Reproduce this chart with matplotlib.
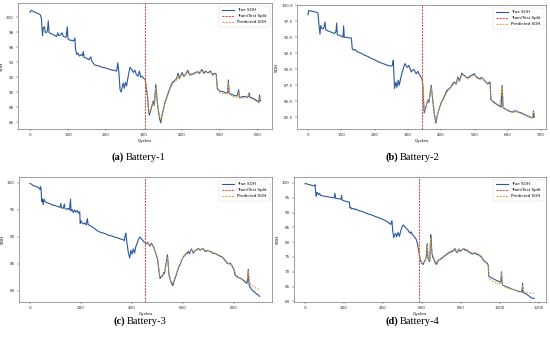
import numpy as np
import matplotlib
matplotlib.use("Agg")
import matplotlib.pyplot as plt

# ---- Battery-1 ----
a_cyc = [0, 3, 10, 20, 27, 30, 31, 33, 35, 38, 40, 43, 46, 48, 50, 60, 70, 73, 76, 80,
         84, 88, 95, 98, 100, 105, 110, 115, 118, 120, 123, 126, 130, 135, 138, 140, 143, 150, 155, 160,
         162, 170, 180, 190, 200, 210, 220, 228, 231, 234, 237, 240, 243, 245, 248, 251, 254, 258, 263, 268,
         272, 276, 280, 284, 288, 291, 295, 299, 303, 306, 309, 312, 314, 318, 322, 324, 327, 331, 335, 338,
         341, 344, 347, 350, 355, 358, 362, 368, 372, 375, 380, 386, 390, 393, 397, 400, 405, 410, 415, 420,
         425, 430, 435, 440, 446, 452, 458, 462, 466, 470, 475, 480, 485, 490, 493, 500, 505, 510, 515, 520,
         522, 524, 530, 535, 540, 545, 549, 551, 555, 560, 565, 570, 575, 577, 579, 585, 590, 595, 600, 602,
         604, 606]
a_true = [100.6, 100.9, 100.7, 100.5, 100.3, 99.8, 98.9, 97.5, 98.6, 98.7, 98.0, 97.9, 98.2, 99.5, 97.9, 97.7, 97.4, 97.9, 97.5, 97.6,
          97.9, 97.4, 97.3, 98.7, 97.1, 96.9, 96.9, 96.8, 97.2, 95.6, 95.0, 95.2, 94.8, 95.0, 94.8, 95.4, 94.6, 94.5, 94.3, 94.7,
          94.2, 93.6, 93.5, 93.3, 93.2, 93.0, 92.9, 92.8, 93.9, 92.5, 90.3, 90.0, 90.8, 91.2, 90.5, 91.3, 90.8, 92.0, 93.3, 93.0,
          92.6, 92.9, 92.3, 92.1, 92.8, 92.0, 92.1, 91.8, 91.7, 90.5, 89.5, 87.5, 86.9, 87.6, 88.4, 88.8, 88.2, 91.0, 88.6, 87.4,
          86.5, 85.9, 86.8, 87.5, 88.6, 89.0, 89.6, 90.5, 91.0, 91.3, 91.5, 91.8, 92.5, 91.8, 92.2, 92.6, 92.1, 92.4, 92.9, 92.3,
          92.4, 92.4, 92.6, 92.7, 92.5, 93.0, 92.5, 92.8, 92.6, 92.6, 92.8, 92.3, 92.5, 92.4, 90.4, 90.1, 90.1, 90.0, 89.9, 89.9,
          91.6, 89.8, 89.7, 89.6, 89.5, 89.5, 90.3, 89.3, 89.3, 89.4, 89.4, 89.3, 89.4, 89.9, 89.3, 89.2, 89.1, 88.9, 88.8, 88.6,
          89.6, 88.8]
a_pred_cyc = [303, 306, 309, 312, 314, 318, 322, 324, 327, 331, 335, 338, 341, 344, 347, 350, 355, 358, 362, 368,
              375, 380, 386, 390, 393, 400, 405, 415, 420, 430, 440, 452, 458, 462, 470, 475, 480, 490, 493, 500,
              510, 520, 522, 524, 535, 545, 549, 551, 565, 577, 579, 590, 600, 604, 606]
a_pred = [91.7, 90.8, 89.8, 87.8, 87.2, 87.5, 88.3, 88.6, 88.3, 90.6, 88.8, 87.6, 86.8, 86.3, 86.9, 87.4, 88.4, 88.8, 89.4, 90.3,
          91.1, 91.3, 91.6, 92.2, 91.7, 92.4, 92.0, 92.7, 92.2, 92.3, 92.6, 92.8, 92.4, 92.7, 92.5, 92.7, 92.2, 92.3, 90.6, 89.9,
          89.8, 89.7, 91.3, 89.7, 89.4, 89.3, 90.0, 89.2, 89.2, 89.7, 89.2, 88.9, 88.6, 89.3, 88.9]
a_split = 303

# ---- Battery-2 ----
b_cyc = [0, 2, 10, 20, 30, 33, 36, 38, 40, 45, 48, 51, 53, 60, 70, 80, 84, 86, 88, 95,
         100, 105, 107, 109, 115, 125, 130, 133, 136, 140, 145, 150, 160, 170, 180, 190, 200, 210, 220, 230,
         240, 250, 254, 256, 258, 260, 264, 267, 271, 274, 278, 283, 291, 298, 303, 310, 318, 325, 330, 335,
         340, 343, 345, 347, 349, 355, 360, 363, 367, 370, 373, 376, 380, 384, 388, 392, 400, 405, 410, 415,
         420, 425, 430, 435, 440, 445, 450, 455, 462, 467, 470, 475, 480, 485, 490, 495, 500, 505, 510, 515,
         520, 525, 530, 535, 540, 545, 547, 549, 555, 560, 565, 570, 575, 580, 583, 586, 592, 600, 608, 615,
         620, 625, 632, 640, 648, 655, 660, 665, 672, 676, 677, 680]
b_true = [98.5, 99.2, 99.1, 99.0, 98.8, 97.0, 95.5, 96.8, 96.5, 96.3, 96.6, 97.4, 96.2, 96.0, 95.8, 95.6, 95.9, 97.2, 95.4, 95.3,
          95.2, 95.0, 96.8, 95.0, 95.0, 94.9, 94.9, 93.2, 93.0, 93.1, 92.9, 92.7, 92.5, 92.2, 92.0, 91.7, 91.5, 91.2, 91.0, 90.8,
          90.6, 90.5, 90.6, 91.4, 89.0, 87.0, 88.0, 87.2, 88.3, 87.5, 88.5, 89.6, 90.9, 90.3, 90.6, 89.6, 90.0, 89.3, 89.7, 89.1,
          88.7, 88.5, 87.3, 85.0, 83.2, 84.3, 85.2, 84.8, 86.3, 87.5, 86.0, 84.5, 82.8, 81.6, 82.7, 83.5, 84.8, 85.3, 85.8, 86.5,
          86.8, 87.0, 87.3, 87.8, 88.0, 87.7, 88.8, 88.2, 89.4, 89.1, 89.0, 88.8, 88.6, 88.9, 89.0, 89.2, 89.3, 88.8, 88.7, 88.5,
          88.7, 88.6, 88.2, 88.0, 87.7, 88.0, 88.0, 85.3, 85.0, 84.8, 84.6, 84.4, 84.3, 84.1, 87.5, 84.0, 83.8, 83.6, 83.4, 83.3,
          83.5, 83.5, 83.3, 83.2, 83.0, 82.8, 82.7, 82.6, 82.4, 82.5, 83.5, 82.5]
b_pred_cyc = [341, 345, 347, 349, 355, 360, 363, 370, 376, 380, 384, 392, 400, 410, 420, 430, 440, 445, 450, 455,
              462, 470, 480, 490, 500, 505, 515, 525, 535, 540, 547, 549, 555, 565, 575, 583, 586, 600, 615, 625,
              640, 655, 665, 672, 677, 680]
b_pred = [88.6, 87.5, 85.4, 83.6, 84.4, 85.0, 84.9, 87.2, 84.8, 83.0, 82.0, 83.4, 84.6, 85.6, 86.6, 87.2, 87.8, 87.6, 88.5, 88.1,
          89.2, 88.9, 88.5, 88.8, 89.1, 88.7, 88.4, 88.5, 87.9, 87.6, 87.8, 85.6, 84.8, 84.5, 84.1, 87.2, 84.1, 83.5, 83.2, 83.4,
          83.1, 82.7, 82.5, 82.4, 83.3, 82.6]
b_split = 341

# ---- Battery-3 ----
c_cyc = [0, 5, 13, 25, 33, 39, 42, 44, 46, 49, 52, 55, 60, 70, 80, 90, 100, 110, 118, 121,
         123, 130, 135, 137, 145, 150, 155, 159, 161, 165, 170, 175, 180, 185, 190, 195, 197, 200, 205, 210,
         215, 220, 225, 228, 235, 240, 248, 255, 262, 270, 280, 290, 300, 310, 320, 330, 340, 350, 358, 365,
         370, 373, 376, 380, 386, 391, 394, 396, 400, 405, 410, 415, 420, 425, 431, 436, 440, 445, 450, 455,
         462, 466, 470, 474, 477, 481, 485, 489, 492, 496, 500, 505, 510, 515, 520, 524, 527, 533, 539, 542,
         545, 549, 552, 556, 560, 565, 570, 575, 580, 585, 590, 595, 600, 605, 610, 615, 620, 625, 629, 633,
         637, 640, 645, 650, 655, 660, 665, 670, 675, 680, 685, 690, 695, 700, 705, 710, 715, 720, 728, 735,
         742, 750, 755, 760, 765, 770, 775, 780, 785, 790, 800, 804, 810, 815, 822, 830, 836, 840, 845, 850,
         853, 856, 858, 860, 865, 870, 875, 880, 885, 890, 895, 900]
c_true = [99.9, 99.8, 99.5, 99.3, 99.2, 98.8, 99.3, 98.5, 96.5, 97.0, 96.0, 97.0, 96.5, 96.3, 96.1, 95.9, 95.8, 95.6, 95.5, 96.2,
          95.4, 95.3, 96.1, 95.3, 95.1, 95.3, 95.0, 97.0, 94.8, 95.1, 94.5, 95.0, 94.6, 94.9, 94.4, 94.7, 92.5, 93.0, 92.6, 92.4,
          92.6, 92.2, 93.4, 92.3, 92.1, 92.0, 91.7, 91.5, 91.2, 91.0, 90.8, 90.7, 90.5, 90.3, 90.2, 90.0, 89.9, 89.7, 89.6, 89.5,
          89.3, 90.2, 90.7, 89.0, 87.0, 86.1, 87.0, 87.5, 86.8, 87.8, 87.0, 88.2, 88.8, 89.5, 90.0, 89.7, 89.5, 89.2, 89.0, 88.7,
          89.0, 88.6, 88.3, 88.7, 88.8, 88.4, 88.2, 87.5, 87.2, 86.5, 86.0, 84.0, 82.3, 82.6, 82.8, 83.4, 83.2, 85.0, 86.7, 85.0,
          83.0, 82.2, 81.8, 81.3, 81.0, 81.8, 82.5, 83.2, 84.0, 84.6, 85.0, 85.7, 86.2, 86.5, 86.8, 86.9, 87.3, 86.9, 87.4, 87.8,
          87.4, 87.0, 87.3, 87.5, 87.7, 87.9, 87.6, 87.6, 87.8, 87.8, 87.4, 87.3, 87.5, 87.5, 87.3, 87.3, 87.0, 87.0, 86.9, 86.7,
          86.5, 86.4, 86.2, 86.0, 85.6, 85.4, 85.1, 85.0, 85.2, 84.8, 84.0, 83.0, 82.7, 82.5, 82.4, 82.2, 82.0, 81.8, 81.6, 81.4,
          81.7, 84.0, 82.0, 81.0, 80.6, 80.2, 80.0, 79.8, 79.6, 79.4, 79.3, 79.0]
c_pred_cyc = [450, 460, 470, 480, 490, 500, 510, 520, 530, 539, 545, 552, 560, 570, 580, 590, 600, 610, 620, 633,
              640, 650, 660, 670, 680, 690, 700, 710, 720, 735, 750, 760, 770, 780, 790, 800, 806, 815, 830, 840,
              850, 856, 860, 870, 880, 890, 900]
c_pred = [89.0, 88.9, 88.5, 88.6, 87.4, 86.2, 82.5, 83.0, 84.0, 86.3, 83.3, 82.0, 81.4, 82.7, 84.2, 85.1, 86.3, 86.9, 87.4, 87.7,
          87.2, 87.6, 87.9, 87.7, 87.8, 87.4, 87.5, 87.3, 87.1, 86.8, 86.5, 86.1, 85.5, 85.1, 84.9, 84.1, 83.2, 82.6, 82.3, 82.0,
          81.7, 83.6, 81.6, 81.0, 80.7, 80.4, 80.3]
c_split = 453

# ---- Battery-4 ----
d_cyc = [0, 5, 17, 30, 40, 48, 52, 55, 58, 61, 65, 70, 75, 80, 100, 120, 140, 150, 154, 157,
         170, 185, 188, 191, 200, 210, 220, 228, 231, 235, 240, 245, 250, 255, 260, 270, 280, 300, 320, 340,
         360, 380, 400, 420, 430, 440, 446, 450, 455, 460, 465, 470, 474, 478, 482, 485, 490, 497, 504, 510,
         515, 520, 525, 530, 535, 540, 545, 550, 555, 560, 565, 570, 575, 578, 582, 586, 590, 595, 600, 607,
         612, 618, 622, 627, 630, 634, 640, 642, 645, 648, 651, 655, 660, 665, 670, 675, 680, 685, 690, 700,
         710, 720, 730, 740, 750, 760, 765, 770, 775, 780, 785, 790, 795, 800, 805, 810, 815, 820, 830, 838,
         845, 852, 860, 868, 875, 882, 890, 898, 905, 912, 920, 928, 935, 940, 942, 950, 955, 962, 970, 978,
         985, 992, 1000, 1004, 1008, 1010, 1013, 1020, 1030, 1040, 1050, 1060, 1070, 1080, 1090, 1100, 1110, 1114, 1116, 1118,
         1125, 1135, 1145, 1150, 1155, 1160, 1175]
d_true = [99.7, 99.8, 99.5, 99.3, 99.1, 99.0, 99.4, 97.0, 95.5, 96.8, 96.5, 96.0, 96.5, 95.8, 95.5, 95.3, 95.0, 95.0, 96.5, 94.8,
          94.7, 94.5, 95.7, 94.2, 94.0, 93.8, 93.6, 93.5, 91.5, 91.8, 91.2, 91.4, 91.3, 91.0, 91.2, 90.8, 90.6, 90.2, 89.6, 89.2,
          88.7, 88.2, 87.7, 87.0, 86.5, 86.0, 87.3, 84.0, 81.5, 82.5, 83.0, 81.8, 82.5, 83.3, 82.4, 82.0, 83.5, 85.0, 85.8, 85.4,
          85.0, 84.6, 84.2, 84.0, 83.3, 83.0, 83.5, 82.7, 82.3, 81.8, 81.5, 81.0, 80.0, 79.0, 77.5, 76.0, 74.5, 73.3, 72.8, 72.5,
          73.5, 74.0, 75.0, 79.5, 75.0, 74.0, 73.5, 77.0, 82.5, 80.0, 76.5, 75.0, 74.5, 73.5, 72.8, 72.5, 73.5, 74.0, 74.0, 74.5,
          75.0, 75.5, 76.0, 76.5, 76.7, 77.0, 77.5, 77.8, 76.8, 76.5, 77.2, 77.5, 76.9, 77.0, 77.5, 77.6, 77.8, 77.3, 77.3, 76.8,
          76.5, 76.2, 76.0, 76.3, 76.2, 75.8, 75.8, 75.3, 75.0, 74.2, 73.5, 73.2, 72.8, 72.3, 68.6, 68.2, 68.0, 67.8, 67.5, 67.2,
          67.0, 66.8, 66.5, 66.8, 70.0, 67.0, 65.5, 65.3, 65.0, 64.8, 64.5, 64.2, 64.0, 63.8, 63.5, 63.3, 63.2, 63.5, 66.0, 63.0,
          62.8, 62.5, 62.0, 61.8, 61.5, 61.2, 61.0]
d_pred_cyc = [580, 590, 600, 607, 615, 622, 627, 632, 640, 645, 650, 660, 670, 680, 690, 700, 720, 740, 760, 770,
              780, 790, 800, 815, 830, 845, 860, 875, 890, 905, 920, 935, 940, 944, 955, 970, 985, 1000, 1008, 1013,
              1030, 1050, 1070, 1090, 1110, 1116, 1120, 1135, 1150, 1160, 1175]
d_pred = [79.5, 74.8, 73.0, 72.8, 73.8, 75.2, 78.8, 74.5, 73.8, 81.5, 77.0, 74.8, 73.3, 73.6, 74.2, 74.8, 75.8, 76.8, 77.5, 78.0,
          76.8, 77.8, 77.3, 78.0, 77.6, 76.8, 76.3, 76.5, 76.0, 75.3, 73.8, 73.0, 72.5, 67.5, 67.2, 66.5, 66.0, 65.7, 69.5, 65.5,
          64.7, 64.3, 64.0, 63.6, 63.4, 65.6, 63.4, 63.0, 62.8, 62.7, 62.8]
d_split = 585

captions = [("(a)", "Battery-1"), ("(b)", "Battery-2"), ("(c)", "Battery-3"), ("(d)", "Battery-4")]

W, H = 550, 338
fig = plt.figure(figsize=(W / 100, H / 100), dpi=100)
fig.patch.set_facecolor("white")


def px_axes(left, top, right, bottom):
    return fig.add_axes([left / W, 1 - bottom / H, (right - left) / W, (bottom - top) / H])


panels = [
    (px_axes(18, 3, 272, 129), a_cyc, a_true, a_pred_cyc, a_pred, a_split, (-31.6, 636.8), (85.07, 101.87), [86, 88, 90, 92, 94, 96, 98, 100], "%d"),
    (px_axes(297, 5, 546, 129), b_cyc, b_true, b_pred_cyc, b_pred, b_split, (-33, 714.7), (80.67, 100.05), [82.5, 85, 87.5, 90, 92.5, 95, 97.5, 100], "%.1f"),
    (px_axes(19, 177, 272, 302), c_cyc, c_true, c_pred_cyc, c_pred, c_split, (-43, 949), (77.96, 101.1), [80, 85, 90, 95, 100], "%d"),
    (px_axes(294, 177, 546, 302), d_cyc, d_true, d_pred_cyc, d_pred, d_split, (-56, 1236), (59.8, 102.0), [60, 65, 70, 75, 80, 85, 90, 95, 100], "%d"),
]

for ax, cyc, true, pcyc, pred, split, xl, yl, yt, fmt in panels:
    ax.plot(cyc, true, color="#2a58a0", lw=0.8, label="True SOH")
    ax.axvline(split, color="#e8332a", ls="--", lw=0.7, dashes=(2, 1.2), label="Train/Test Split")
    ax.plot(pcyc, pred, color="#e0a030", ls="--", lw=0.7, dashes=(2, 1.2), label="Predicted SOH")
    ax.set_xlim(*xl)
    ax.set_ylim(*yl)
    ax.set_yticks(yt)
    ax.yaxis.set_major_formatter(matplotlib.ticker.FormatStrFormatter(fmt))
    ax.tick_params(labelsize=3, length=1.5, width=0.3, pad=1.5, colors="#333333")
    for s in ax.spines.values():
        s.set_linewidth(0.5)
        s.set_color("#777777")
    ax.set_xlabel("Cycles", fontsize=3.2, labelpad=1.2)
    ax.set_ylabel("SOH", fontsize=3.2, labelpad=1.5)
    leg = ax.legend(loc="upper right", fontsize=3, handlelength=3, frameon=True,
                    borderpad=0.6, labelspacing=0.5, borderaxespad=0.6)
    leg.get_frame().set_linewidth(0.3)

# junction between the bold tag and the name, in pixels
cap_pos = [(125, 157), (399, 157), (126, 321), (399, 321)]
for (lab, name), (cx, cy) in zip(captions, cap_pos):
    fig.text((cx - 1) / W, 1 - cy / H, lab, ha="right", va="center", fontsize=7.6,
             family="Liberation Serif", weight="bold")
    fig.text((cx + 1) / W, 1 - cy / H, name, ha="left", va="center", fontsize=7.6,
             family="Liberation Serif")

fig.savefig("out.png", dpi=100)
